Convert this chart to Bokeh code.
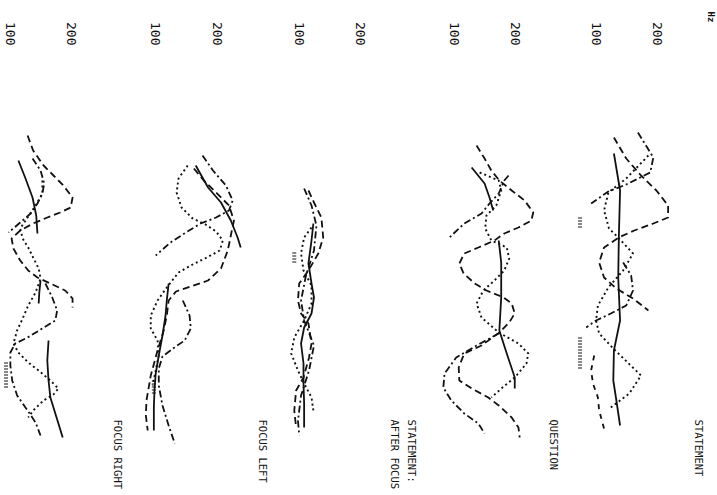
import math
import numpy as np
from bokeh.plotting import figure
from bokeh.models import Range1d, FixedTicker, Label, Title
from bokeh.embed import file_html
from bokeh.resources import INLINE

nan = float("nan")

# ---------------- data (time in ms, F0 in Hz) ----------------
tick_hz = [100, 200]
axis_unit = "Hz"

# STATEMENT
st_solid_t = [265, 450, 685, 885, 1100, 1250, 1400, 1500, 1625]
st_solid_hz = [129, 139, 137, 136, 139, 129, 128, 133, 139]
st_dotted_t = [275, 390, 460, 550, 640, 685, 765, 850, 935, 1025, 1100, 1165, 1240, 1375, 1465, 1535]
st_dotted_hz = [185, 149, 120, 113, 121, 136, 160, 144, 120, 103, 100, 105, 128, 173, 154, 124]
st_dashed_t = [185, 290, 375, 450, 525, 585, 615, 650, 685, 735, 810, 885, 940, 990, 1050]
st_dashed_hz = [129, 149, 173, 198, 217, 217, 193, 162, 137, 113, 105, 113, 133, 160, 185]
st_dashdot_t = [160, 285, 360, 420, 455, 515, nan, 810, 875, 950, 1025, 1065, 1100, 1135]
st_dashdot_hz = [168, 193, 188, 149, 120, 92, nan, 144, 157, 160, 149, 124, 100, 84]
st_dash2_t = [1275, 1350, 1415, 1485, 1550, 1640]
st_dash2_hz = [97, 92, 95, 103, 105, 113]
st_marks_t = [585, 640, nan, 1185, 1350]
st_marks_hz = [74, 74, nan, 74, 74]

# QUESTION
q_solid_t = [335, 415, 485, 550, nan, 700, 810, 985, 1150, 1265, 1385, 1440]
q_solid_hz = [128, 149, 157, 163, nan, 172, 176, 176, 173, 185, 198, 198]
q_dotted_t = [360, 400, 450, 525, 575, 640, 700, 735, 790, 850, 900, 950, 1015, 1085, 1160, 1215, 1265, 1315, 1385, 1430, 1485]
q_dotted_hz = [141, 172, 176, 168, 152, 150, 160, 185, 189, 181, 165, 147, 136, 144, 172, 204, 220, 217, 198, 180, 160]
q_dashed_t = [225, 290, 350, 400, 450, 500, 560, 600, 635, 665, 700, 735, 765, 815, 865, 915, 950, 985, 1015, 1065,
              1110, 1160, 1225, 1265, 1335, 1400, 1440, 1485, 1525, 1585, 1635, 1685]
q_dashed_hz = [136, 149, 160, 173, 193, 214, 228, 225, 204, 181, 165, 139, 116, 108, 115, 133, 152, 180, 193, 198,
               189, 173, 144, 116, 107, 108, 128, 155, 172, 193, 204, 206]
q_dashdot_t = [375, 400, 465, 515, 565, 615, 685, nan, 1165, 1225, 1285, 1365, 1435, 1500, 1565, 1615, 1665]
q_dashdot_hz = [188, 181, 172, 157, 144, 116, 92, nan, 172, 136, 103, 84, 82, 95, 116, 139, 149]

# STATEMENT: AFTER FOCUS
af_solid_t = [615, 700, 815, 915, 985, 1065, 1135, 1215, 1315, 1415, 1515, 1635]
af_solid_hz = [123, 120, 115, 120, 124, 120, 108, 103, 107, 107, 108, 108]
af_dashed_t = [450, 510, 585, 685, 765, 850, 915, 1000, 1065, 1115, 1215, 1285, 1385, 1450, 1550, 1635]
af_dashed_hz = [115, 124, 136, 139, 131, 115, 100, 98, 103, 115, 120, 116, 107, 95, 92, 95]
af_dotted_t = [635, 685, 765, 850, 925, 1015, 1100, 1185, 1265, 1350, 1415, 1485, 1550]
af_dotted_hz = [120, 108, 103, 107, 120, 120, 108, 92, 87, 98, 108, 120, 123]
af_dashdot_t = [440, 525, 625, 750, 875, 1000, 1100, 1225, 1350, 1475, 1600, 1675]
af_dashdot_hz = [108, 120, 128, 124, 111, 103, 108, 124, 116, 103, 98, 100]
af_marks_t = [760, 810]
af_marks_hz = [92, 92]

# FOCUS LEFT
fl_solid_t = [325, 435, 510, 600, 685, 735, nan, 915, 1000, 1075, 1175, 1275, 1365, 1450, 1535, 1650]
fl_solid_hz = [165, 185, 206, 222, 233, 238, nan, 121, 118, 116, 111, 105, 100, 98, 97, 97]
fl_dotted_t = [325, 390, 460, 535, 590, 620, 655, 700, 750, 785, 820, 860, 935, 1000, 1075, 1140, 1200, 1275, 1350, 1425]
fl_dotted_hz = [152, 137, 134, 142, 160, 181, 198, 209, 204, 183, 160, 137, 118, 103, 92, 92, 103, 105, 100, 95]
fl_dashed_t = [340, 400, 460, 525, 600, 675, 750, 840, 900, 930, 955, 1000, 1075, 1150, 1250, 1375, 1500, 1575, 1650]
fl_dashed_hz = [162, 178, 198, 219, 227, 222, 217, 206, 185, 157, 133, 121, 118, 113, 103, 92, 85, 84, 87]
fl_dashdot_t = [275, 350, 425, 500, 550, 585, 615, 660, 710, 775, nan,
                1000, 1075, 1140, 1200, 1240, 1280, 1340, 1425, 1525, 1625, 1715]
fl_dashdot_hz = [176, 193, 214, 225, 219, 198, 173, 149, 124, 100, nan,
                 144, 155, 157, 147, 128, 111, 105, 105, 111, 121, 131]
fl_marks_t = [1400, 1465]
fl_marks_hz = [97, 97]

# FOCUS RIGHT
fr_solid_t = [300, 385, 485, 575, 665, nan, 900, 960, 1015, nan, 1200, 1300, 1400, 1485, 1565, 1685]
fr_solid_hz = [113, 124, 136, 142, 144, nan, 149, 147, 146, nan, 162, 160, 162, 165, 173, 185]
fr_dashed_t = [175, 250, 325, 375, 425, 485, 535, 560, 585, 615, 650, 690, 740, 800, 850, 885, 915, 950, 990, 1035]
fr_dashed_hz = [128, 137, 154, 170, 186, 201, 198, 181, 160, 137, 116, 102, 105, 116, 129, 144, 165, 189, 201, 201]
fr_dashdot_t = [290, 350, 415, 465, 515, 565, 610, 660, nan,
                915, 985, 1050, 1100, 1140, 1185, 1215, 1260, 1325, 1400, 1475, 1550, 1610, 1675]
fr_dashdot_hz = [136, 149, 155, 152, 144, 133, 116, 97, nan,
                 157, 168, 176, 173, 152, 128, 108, 100, 100, 103, 111, 128, 141, 149]
fr_dotted_t = [400, 465, 525, 585, 640, 690, 735, 785, 840, 890, 960, 1025, 1090, 1150, 1215, 1260,
               1310, 1350, 1400, 1440, 1470, 1500, 1550, 1585]
fr_dotted_hz = [152, 152, 141, 128, 116, 120, 129, 137, 146, 149, 141, 129, 120, 111, 105, 113,
                129, 146, 165, 178, 170, 154, 137, 129]
fr_marks_t = [1310, 1440]
fr_marks_hz = [93, 93]

# ---------------- layout ----------------
PX_PER_HZ = 0.615          # reference scale of every panel
panel_base = {"S": 867, "Q": 637, "AF": 385, "FL": 152, "FR": -84}   # panel offset along the shared axis

panels = [
    ("S", [("solid", st_solid_t, st_solid_hz), ("dotted", st_dotted_t, st_dotted_hz),
           ("dashed", st_dashed_t, st_dashed_hz), ("dashdot", st_dashdot_t, st_dashdot_hz),
           ("dash2", st_dash2_t, st_dash2_hz), ("marks", st_marks_t, st_marks_hz)]),
    ("Q", [("solid", q_solid_t, q_solid_hz), ("dotted", q_dotted_t, q_dotted_hz),
           ("dashed", q_dashed_t, q_dashed_hz), ("dashdot", q_dashdot_t, q_dashdot_hz)]),
    ("AF", [("solid", af_solid_t, af_solid_hz), ("dotted", af_dotted_t, af_dotted_hz),
            ("dashed", af_dashed_t, af_dashed_hz), ("dashdot", af_dashdot_t, af_dashdot_hz),
            ("marks", af_marks_t, af_marks_hz)]),
    ("FL", [("solid", fl_solid_t, fl_solid_hz), ("dotted", fl_dotted_t, fl_dotted_hz),
            ("dashed", fl_dashed_t, fl_dashed_hz), ("dashdot", fl_dashdot_t, fl_dashdot_hz),
            ("marks", fl_marks_t, fl_marks_hz)]),
    ("FR", [("solid", fr_solid_t, fr_solid_hz), ("dotted", fr_dotted_t, fr_dotted_hz),
            ("dashed", fr_dashed_t, fr_dashed_hz), ("dashdot", fr_dashdot_t, fr_dashdot_hz),
            ("marks", fr_marks_t, fr_marks_hz)]),
]

styles = {
    "solid": dict(line_dash="solid", line_width=1.8),
    "dotted": dict(line_dash="2 3", line_width=1.9),
    "dashed": dict(line_dash="7 4", line_width=1.8),
    "dashdot": dict(line_dash="7 3 2 3", line_width=1.8),
    "dash2": dict(line_dash="5 5", line_width=1.8),
    "marks": dict(line_dash="1 2", line_width=4),
}

titles = [  # (text, ref x pixel) — written top-to-bottom
    ("STATEMENT", 698), ("QUESTION", 553), ("STATEMENT:", 411), ("AFTER FOCUS", 394),
    ("FOCUS LEFT", 262), ("FOCUS RIGHT", 117),
]
FONT = "DejaVu Sans Mono"
INK = "#111111"

W, H = 717, 495
FRAME_TOP = 50
FRAME_W = 704
p = figure(width=W, height=H, output_backend="svg", toolbar_location=None,
           x_axis_location="above", y_axis_location=None,
           x_range=Range1d(0, FRAME_W / PX_PER_HZ),
           y_range=Range1d((H - 100) * 5, (FRAME_TOP - 100) * 5),
           min_border_left=0, min_border_right=0, min_border_bottom=0, min_border_top=FRAME_TOP)
p.outline_line_color = None
p.xgrid.grid_line_color = None
p.ygrid.grid_line_color = None
p.background_fill_color = "white"
p.border_fill_color = "white"

for key, series in panels:
    base = panel_base[key]
    for style, t, hz in series:
        x = base + np.array(hz, dtype=float)
        p.line(x, np.array(t, dtype=float), line_color=INK, line_cap="butt", **styles[style])

ticks = []
overrides = {}
for key, _ in panels:
    for v in tick_hz:
        ticks.append(panel_base[key] + v)
        overrides[panel_base[key] + v] = str(v)
ax = p.xaxis[0]
ax.ticker = FixedTicker(ticks=sorted(ticks))
ax.major_label_overrides = overrides
ax.major_label_orientation = -math.pi / 2
ax.axis_line_color = None
ax.major_tick_line_color = None
ax.minor_tick_line_color = None
ax.major_tick_out = 0
ax.major_tick_in = 0
ax.major_label_standoff = 5
ax.major_label_text_font = FONT
ax.major_label_text_font_size = "13px"
ax.major_label_text_color = INK

for text, xref in titles:
    p.add_layout(Label(x=xref / PX_PER_HZ, y=(419 - 100) * 5, text=text, angle=-math.pi / 2,
                       text_align="left", text_baseline="middle", text_font=FONT,
                       text_font_size="10.5px", text_color=INK))

unit_title = Title(text=axis_unit, align="left", text_font=FONT, text_font_size="9px",
                   text_font_style="bold", text_color=INK, standoff=0, offset=-39)
p.add_layout(unit_title, "right")

open("out.html", "w").write(file_html(p, INLINE))
